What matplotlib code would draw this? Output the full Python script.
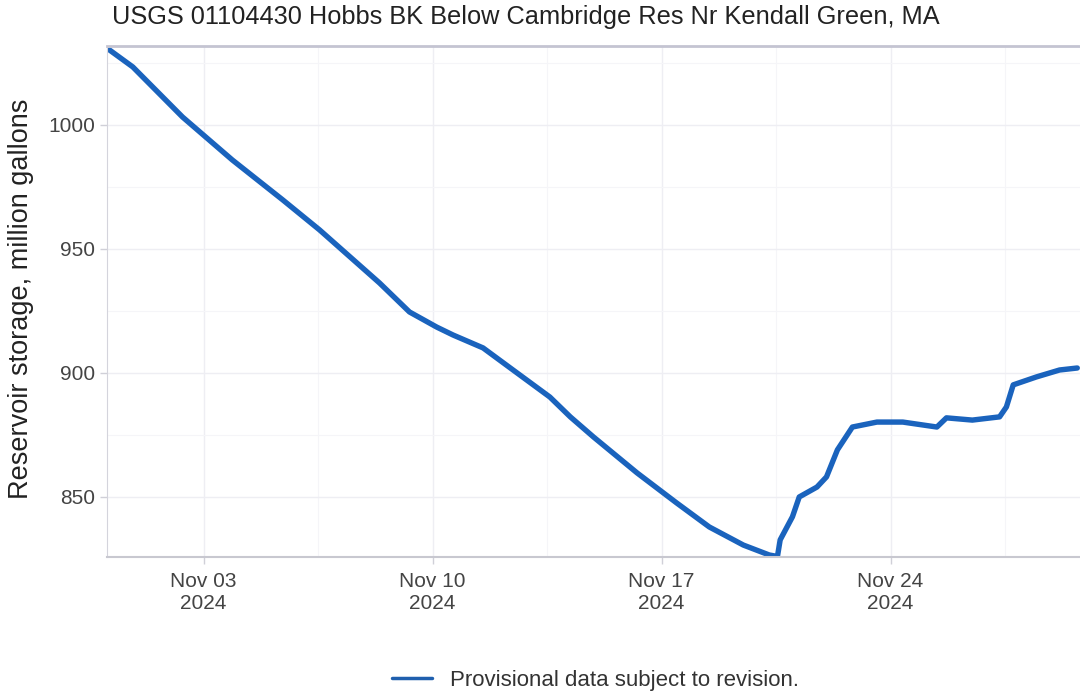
import matplotlib
matplotlib.use("Agg")
import matplotlib.pyplot as plt
import matplotlib.dates as mdates
import pandas as pd

# storage readings taken off the chart (time, million gallons)
times = ["2024-10-31 03:00", "2024-10-31 20:00", "2024-11-02 08:30", "2024-11-03 21:00",
         "2024-11-05 10:00", "2024-11-06 13:00", "2024-11-08 09:00",
         "2024-11-09 07:00", "2024-11-10 03:00", "2024-11-10 15:00",
         "2024-11-11 13:00", "2024-11-12 11:00", "2024-11-13 14:00", "2024-11-14 05:00",
         "2024-11-14 22:00", "2024-11-16 06:00", "2024-11-17 11:00", "2024-11-18 11:00",
         "2024-11-19 12:00", "2024-11-20 07:00", "2024-11-20 13:00", "2024-11-20 15:00",
         "2024-11-21 00:00", "2024-11-21 05:00", "2024-11-21 18:00", "2024-11-22 01:00",
         "2024-11-22 09:00", "2024-11-22 20:00", "2024-11-23 14:00", "2024-11-24 09:00",
         "2024-11-25 10:00", "2024-11-25 17:00", "2024-11-26 12:00", "2024-11-27 08:00",
         "2024-11-27 13:00", "2024-11-27 18:00", "2024-11-28 11:00", "2024-11-29 04:00",
         "2024-11-29 17:00"]
storage = [1030.2, 1023.4, 1003.2, 985.9,
           969.8, 957.7, 936.3,
           924.6, 918.5, 915.3,
           910.1, 901.2, 890.3, 882.3,
           874.2, 859.7, 847.6, 837.9,
           830.6, 826.6, 826.0, 832.7,
           842.0, 850.0, 854.0, 858.1,
           869.0, 878.2, 880.2, 880.2,
           878.2, 881.9, 881.0, 882.3,
           886.3, 895.2, 898.4, 901.2,
           902.0]

title = "USGS 01104430 Hobbs BK Below Cambridge Res Nr Kendall Green, MA"
ylabel = "Reservoir storage, million gallons"
legend_label = "Provisional data subject to revision."

t = pd.to_datetime(times)

plt.rcParams['font.family'] = ['Liberation Sans', 'DejaVu Sans']

fig = plt.figure(figsize=(10.8, 6.95), dpi=100)
ax = fig.add_axes([0.099, 0.1986, 0.901, 0.7354])

ax.plot(t, storage, color="#1a63bd", lw=3.9, solid_joinstyle="round",
        solid_capstyle="round", label=legend_label)

ax.set_xlim(pd.Timestamp("2024-10-31 01:00"), pd.Timestamp("2024-11-29 19:00"))
ax.set_ylim(825.8, 1031.9)

ax.set_yticks([850, 900, 950, 1000])
ax.set_yticks([875, 925, 975, 1025], minor=True)
major_days = pd.to_datetime(["2024-11-03", "2024-11-10", "2024-11-17", "2024-11-24"])
ax.set_xticks(major_days)
ax.set_xticks(major_days + pd.Timedelta(hours=84), minor=True)
ax.xaxis.set_major_formatter(mdates.DateFormatter("%b %d\n%Y"))

ax.grid(which="major", color="#eeeef3", lw=1.0)
ax.grid(which="minor", color="#f5f5f8", lw=0.8)
ax.set_axisbelow(True)

ax.tick_params(axis="both", which="major", labelsize=15, colors="#d0d0d8",
               labelcolor="#444444", length=5, width=1)
ax.tick_params(axis="x", which="major", pad=6)
ax.tick_params(axis="both", which="minor", length=0)
for lbl in ax.get_xticklabels():
    lbl.set_linespacing(1.15)

ax.spines["right"].set_visible(False)
ax.spines["top"].set_color("#c4c4d2")
ax.spines["top"].set_linewidth(2)
ax.spines["left"].set_color("#d4d4dc")
ax.spines["bottom"].set_color("#c8c8d0")
ax.spines["bottom"].set_linewidth(1.5)

ax.set_ylabel(ylabel, fontsize=19.5, color="#222222")
ax.yaxis.set_label_coords(-0.075, 0.505)

fig.text(0.104, 0.975, title, fontsize=18.3, color="#222222", ha="left", va="center")

leg = ax.legend(loc="center", bbox_to_anchor=(0.502, -0.241), frameon=False,
                fontsize=16, handlelength=1.8, labelcolor="#333333")
leg.legend_handles[0].set_linewidth(2.5)
leg.legend_handles[0].set_color("#1f5fae")

fig.savefig("out.png", dpi=100)
